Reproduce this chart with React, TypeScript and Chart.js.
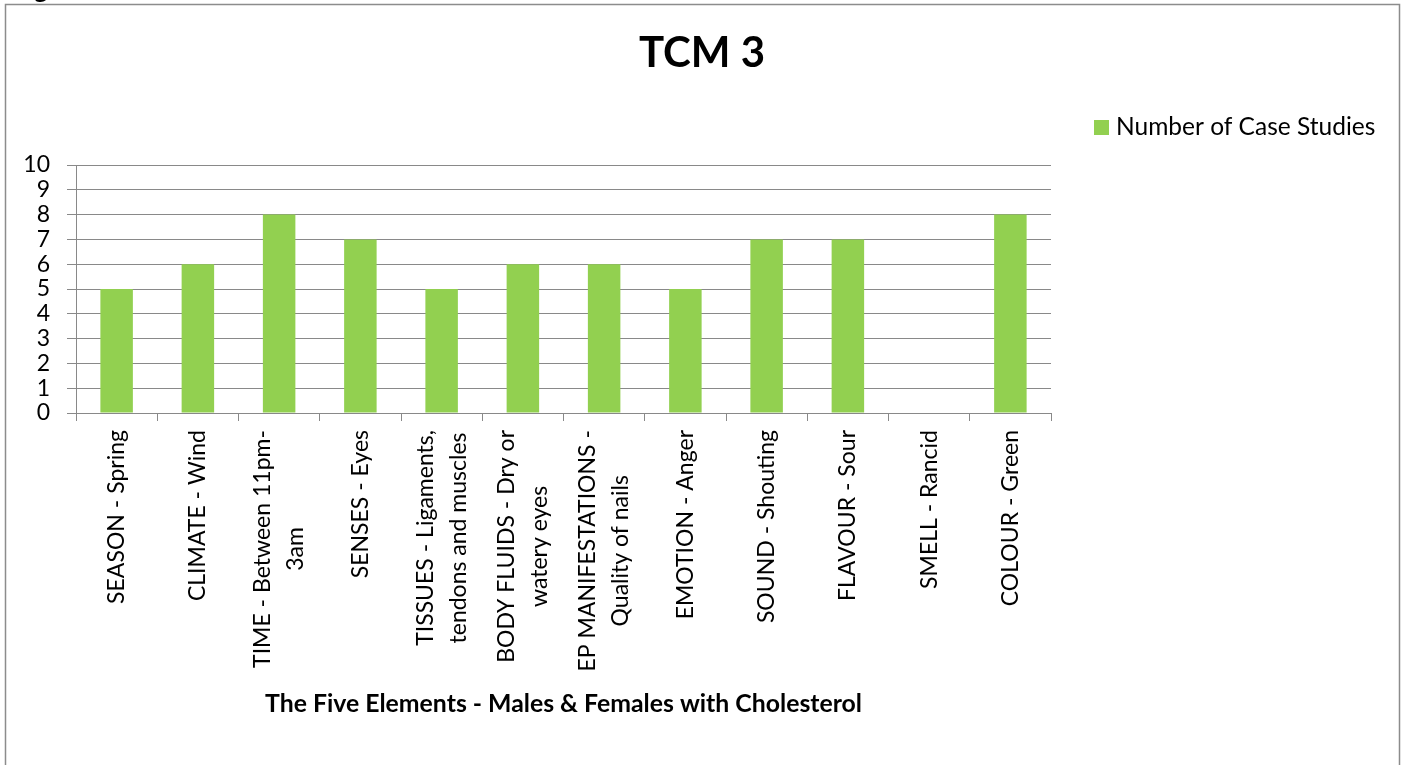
import React, { useEffect, useRef } from "react";
import { Chart, registerables } from "chart.js";

Chart.register(...registerables);

// ---- data ----
const categories: string[][] = [
  ["SEASON - Spring"],
  ["CLIMATE - Wind"],
  ["TIME - Between 11pm-", "3am"],
  ["SENSES - Eyes"],
  ["TISSUES - Ligaments,", "tendons and muscles"],
  ["BODY FLUIDS - Dry or", "watery eyes"],
  ["EP MANIFESTATIONS -", "Quality of nails"],
  ["EMOTION - Anger"],
  ["SOUND - Shouting"],
  ["FLAVOUR - Sour"],
  ["SMELL - Rancid"],
  ["COLOUR - Green"],
];
const caseStudies: number[] = [5, 6, 8, 7, 5, 6, 6, 5, 7, 7, 0, 8];
const seriesName = "Number of Case Studies";
const chartTitle = "TCM 3";
const xAxisTitle = "The Five Elements - Males & Females with Cholesterol";
const yTickMin = 0;
const yTickMax = 10;
const yTickStep = 1;

// ---- styles ----
const FONT = "Lato, 'Open Sans', sans-serif";
const BAR_GREEN = "#92d050";
const GRID_GRAY = "#898989";
const FRAME_GRAY = "#8c8c8c";
const LABEL_SIZE = 23;
const LABEL_LINE = 33;

const decorPlugin = {
  id: "decor",
  beforeDraw(chart: any) {
    const ctx = chart.ctx as CanvasRenderingContext2D;
    ctx.save();
    ctx.fillStyle = "#ffffff";
    ctx.fillRect(0, 0, chart.width, chart.height);
    // clipped heading fragment above the frame
    ctx.fillStyle = "#000";
    ctx.font = `bold 26px ${FONT}`;
    ctx.textAlign = "left";
    ctx.textBaseline = "alphabetic";
    ctx.fillText("g", 34, -2);
    // frame
    ctx.strokeStyle = FRAME_GRAY;
    ctx.lineWidth = 1.5;
    ctx.beginPath();
    ctx.moveTo(5.5, chart.height);
    ctx.lineTo(5.5, 4.5);
    ctx.lineTo(chart.width - 4.5, 4.5);
    ctx.lineTo(chart.width - 4.5, chart.height);
    ctx.stroke();
    ctx.restore();
  },
  afterDraw(chart: any) {
    const ctx = chart.ctx as CanvasRenderingContext2D;
    const xs = chart.scales.x;
    const area = chart.chartArea;
    ctx.save();
    // rotated category labels, lines centred on each other
    ctx.font = `${LABEL_SIZE}px ${FONT}`;
    ctx.fillStyle = "#000";
    ctx.textAlign = "center";
    ctx.textBaseline = "middle";
    const labels = chart.data.labels as string[][];
    labels.forEach((lines, i) => {
      const x = xs.getPixelForValue(i);
      const maxW = Math.max(...lines.map((l) => ctx.measureText(l).width));
      ctx.save();
      ctx.translate(x, area.bottom + 17);
      ctx.rotate(-Math.PI / 2);
      lines.forEach((l, j) => {
        const off = (j - (lines.length - 1) / 2) * LABEL_LINE;
        ctx.fillText(l, -maxW / 2, off);
      });
      ctx.restore();
    });
    // legend
    const lx = area.right + 43;
    const ly = 127;
    ctx.fillStyle = chart.data.datasets[0].backgroundColor;
    ctx.fillRect(lx, ly - 7, 15, 15);
    ctx.fillStyle = "#000";
    ctx.textAlign = "left";
    ctx.textBaseline = "middle";
    ctx.font = `24.5px ${FONT}`;
    ctx.fillText(chart.data.datasets[0].label, lx + 22, ly);
    ctx.restore();
  },
};

export default function App() {
  const ref = useRef<HTMLCanvasElement | null>(null);

  useEffect(() => {
    document.body.style.margin = "0";
    const canvas = ref.current;
    if (!canvas) return;
    const chart = new Chart(canvas, {
      type: "bar",
      data: {
        labels: categories,
        datasets: [
          {
            label: seriesName,
            data: caseStudies,
            backgroundColor: BAR_GREEN,
            borderWidth: 0,
            barPercentage: 0.4,
            categoryPercentage: 1,
          },
        ],
      },
      options: {
        responsive: false,
        animation: false,
        devicePixelRatio: 1,
        layout: { padding: 0 },
        plugins: {
          legend: { display: false },
          tooltip: { enabled: false },
          title: {
            display: true,
            text: chartTitle,
            color: "#000",
            font: { family: FONT, size: 42, weight: "bold", lineHeight: 1.2 },
            padding: { top: 28, bottom: 86.6 },
          },
        },
        scales: {
          x: {
            type: "category",
            offset: true,
            grid: {
              display: true,
              offset: true,
              drawOnChartArea: false,
              drawTicks: true,
              tickLength: 8,
              color: GRID_GRAY,
            },
            border: { display: true, color: GRID_GRAY },
            ticks: { display: false },
            title: {
              display: true,
              text: xAxisTitle,
              color: "#000",
              font: { family: FONT, size: 24.8, weight: "bold", lineHeight: 1.2 },
              padding: { top: 0, bottom: 46 },
            },
            afterFit: (s: any) => {
              s.height = 352;
            },
          },
          y: {
            type: "linear",
            min: yTickMin,
            max: yTickMax,
            grid: {
              color: GRID_GRAY,
              drawTicks: true,
              tickLength: 9,
            },
            border: { display: true, color: GRID_GRAY },
            ticks: {
              stepSize: yTickStep,
              autoSkip: false,
              color: "#000",
              padding: 17,
              font: { family: FONT, size: 23, lineHeight: 1 },
            },
            afterFit: (s: any) => {
              s.width = 76;
            },
          },
          spacer: {
            type: "linear",
            position: "right",
            display: true,
            grid: { display: false },
            border: { display: false },
            ticks: { display: false },
            afterFit: (s: any) => {
              s.width = 353;
            },
          },
        },
      },
      plugins: [decorPlugin],
    });
    return () => chart.destroy();
  }, []);

  return (
    <div style={{ position: "absolute", left: 0, top: 0, width: 1404, height: 765, background: "#fff" }}>
      <canvas ref={ref} width={1404} height={765} style={{ width: 1404, height: 765, display: "block" }} />
    </div>
  );
}
